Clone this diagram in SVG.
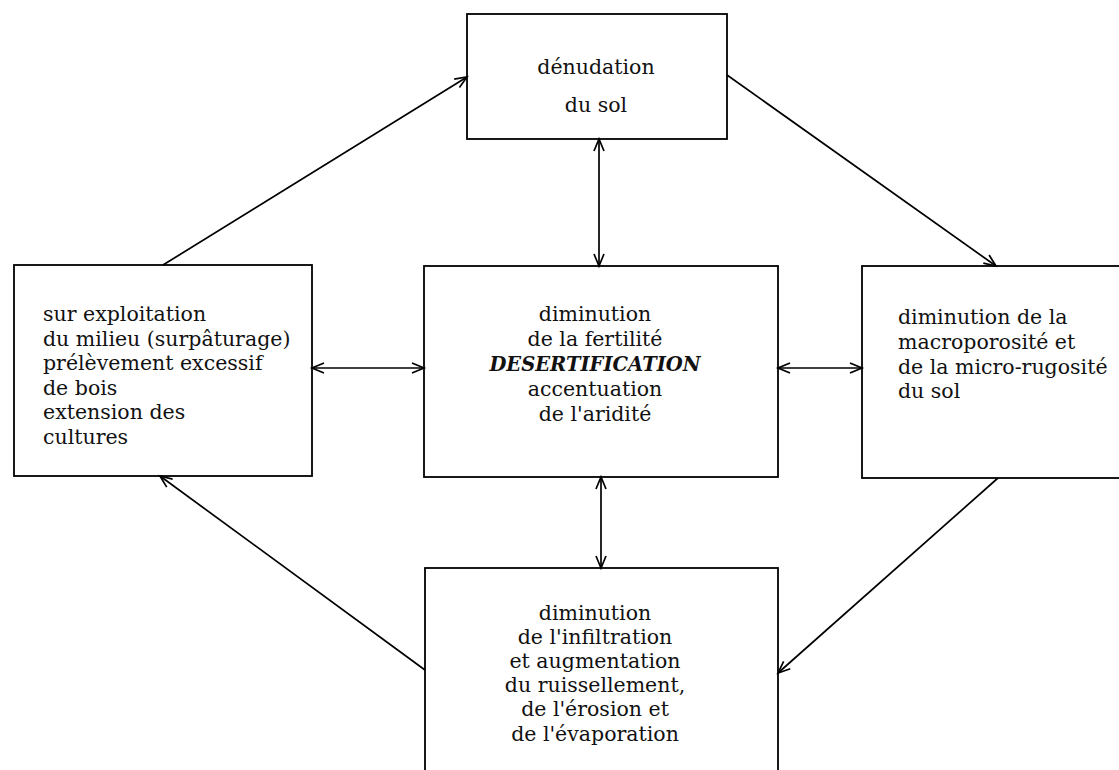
<svg xmlns="http://www.w3.org/2000/svg" width="1119" height="770" viewBox="0 0 1119 770">
<style>
  .box { fill: #ffffff; stroke: #000000; stroke-width: 1.8; }
  .t { font-family: "DejaVu Serif", "Liberation Serif", serif; font-size: 20.5px; fill: #111111; }
  .c { text-anchor: middle; }
  .b { font-weight: bold; font-style: italic; font-size: 19.5px; }
  .conn line { stroke: #000000; stroke-width: 1.7; fill: none; marker-end: url(#arr); }
  .conn line.dbl { marker-start: url(#arr); }
</style>
<defs>
  <marker id="arr" markerUnits="userSpaceOnUse" markerWidth="16" markerHeight="16" refX="13" refY="6" orient="auto-start-reverse" viewBox="0 0 16 12">
    <path d="M1,1 L13,6 L1,11" fill="none" stroke="#000000" stroke-width="1.7"/>
  </marker>
</defs>
<rect x="0" y="0" width="1119" height="770" fill="#ffffff"/>

<g id="node-denudation">
  <rect class="box" x="467" y="14" width="260" height="125"/>
  <text class="t c" x="596" y="74">dénudation</text>
  <text class="t c" x="596" y="112">du sol</text>
</g>

<g id="node-surexploitation">
  <rect class="box" x="14" y="265" width="298" height="211"/>
  <text class="t" x="43" y="321">sur exploitation</text>
  <text class="t" x="43" y="346">du milieu (surpâturage)</text>
  <text class="t" x="43" y="370">prélèvement excessif</text>
  <text class="t" x="43" y="395">de bois</text>
  <text class="t" x="43" y="419">extension des</text>
  <text class="t" x="43" y="444">cultures</text>
</g>

<g id="node-desertification">
  <rect class="box" x="424" y="266" width="354" height="211"/>
  <text class="t c" x="595" y="321">diminution</text>
  <text class="t c" x="595" y="346">de la fertilité</text>
  <text class="t c b" x="595" y="371">DESERTIFICATION</text>
  <text class="t c" x="595" y="396">accentuation</text>
  <text class="t c" x="595" y="421">de l'aridité</text>
</g>

<g id="node-macroporosite">
  <rect class="box" x="862" y="266" width="270" height="212"/>
  <text class="t" x="898" y="324">diminution de la</text>
  <text class="t" x="898" y="349">macroporosité et</text>
  <text class="t" x="898" y="374">de la micro-rugosité</text>
  <text class="t" x="898" y="398">du sol</text>
</g>

<g id="node-infiltration">
  <rect class="box" x="425" y="568" width="353" height="220"/>
  <text class="t c" x="595" y="620">diminution</text>
  <text class="t c" x="595" y="644">de l'infiltration</text>
  <text class="t c" x="595" y="668">et augmentation</text>
  <text class="t c" x="595" y="692">du ruissellement,</text>
  <text class="t c" x="595" y="716">de l'érosion et</text>
  <text class="t c" x="595" y="741">de l'évaporation</text>
</g>

<g id="connectors" class="conn">
  <line x1="163" y1="265" x2="467" y2="77"/>
  <line x1="727" y1="75" x2="996" y2="266"/>
  <line x1="998" y1="478" x2="778" y2="673"/>
  <line x1="425" y1="670" x2="160" y2="476"/>
  <line class="dbl" x1="599" y1="139" x2="599" y2="266"/>
  <line class="dbl" x1="601" y1="477" x2="601" y2="568"/>
  <line class="dbl" x1="312" y1="368" x2="424" y2="368"/>
  <line class="dbl" x1="778" y1="368" x2="862" y2="368"/>
</g>
</svg>
